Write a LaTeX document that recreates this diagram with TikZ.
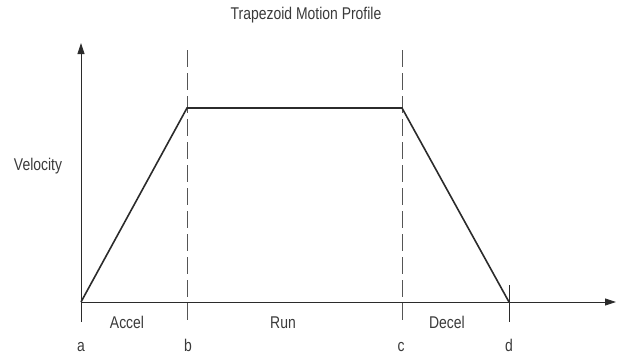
\documentclass[tikz,border=0pt]{standalone}
\usepackage{fontspec}
\setmainfont[FakeStretch=0.82]{Liberation Sans}
\usetikzlibrary{arrows.meta}
\definecolor{ink}{HTML}{2B2B2B}
\definecolor{txt}{HTML}{3A3A3A}
\begin{document}
\begin{tikzpicture}[x=1pt,y=-1pt,
  axis/.style={draw=ink,line width=0.9pt},
  tip/.style={-{Triangle[length=11pt,width=7pt]}},
  profile/.style={draw=ink,line width=1.6pt,line join=miter},
  marker/.style={draw=ink!80,line width=0.8pt,dash pattern=on 17pt off 6pt},
  lbl/.style={text=txt,font=\fontsize{17}{18}\selectfont,inner sep=0pt,anchor=base}]
\useasboundingbox (0,0) rectangle (627,356);
% axes
\coordinate (o) at (81,302);
\coordinate (ytop) at (81,43);
\coordinate (xend) at (616,302);
\coordinate (ybot) at (81,322);
\draw[axis,tip] (ybot) -- (ytop);
\draw[axis,tip] (o) -- (xend);
% phase boundaries
\coordinate (bt) at (187,50);
\coordinate (bb) at (187,322);
\coordinate (ct) at (402,50);
\coordinate (cb) at (402,322);
\coordinate (dt) at (509,285);
\coordinate (db) at (509,322);
\draw[marker] (bt) -- (bb);
\draw[marker] (ct) -- (cb);
\draw[axis] (dt) -- (db);
% velocity profile
\coordinate (p1) at (187,108);
\coordinate (p2) at (402,108);
\coordinate (p3) at (509,302);
\draw[profile] (o) -- (p1) -- (p2) -- (p3);
% labels
\node[lbl] (title) at (306,19.5) {Trapezoid Motion Profile};
\node[lbl] (vel) at (38,170) {Velocity};
\node[lbl] (accel) at (127,328) {Accel};
\node[lbl] (run) at (283,328) {Run};
\node[lbl] (decel) at (447,328) {Decel};
\node[lbl] (la) at (81,351) {a};
\node[lbl] (lb) at (188,351) {b};
\node[lbl] (lc) at (401,351) {c};
\node[lbl] (ld) at (509,351) {d};
\end{tikzpicture}
\end{document}
